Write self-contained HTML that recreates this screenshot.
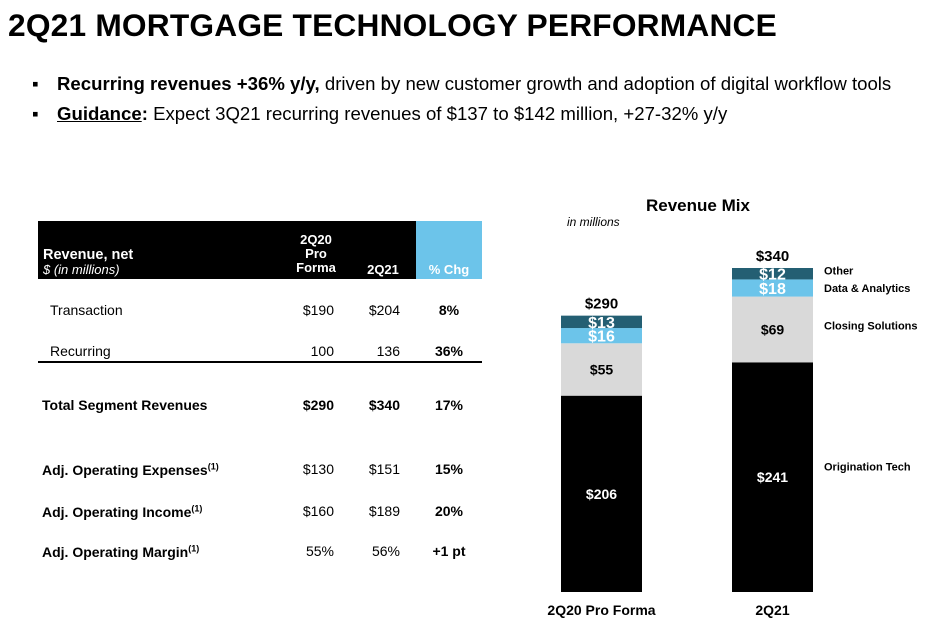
<!DOCTYPE html>
<html><head><meta charset="utf-8">
<style>
body{margin:0;width:930px;height:625px;background:#fff;font-family:"Liberation Sans",Arial,sans-serif;position:relative;overflow:hidden;color:#000}
.a{position:absolute;white-space:nowrap}
.b{font-weight:bold}
.r{text-align:right}
.c{text-align:center}
sup{font-size:9px}
</style></head><body>
<div class="a b" style="left:8px;top:7px;font-size:31.7px;letter-spacing:0.2px">2Q21 MORTGAGE TECHNOLOGY PERFORMANCE</div>
<div class="a" style="left:32px;top:73px;font-size:18.6px">▪</div>
<div class="a" style="left:57px;top:73px;font-size:18.6px"><b>Recurring revenues +36% y/y,</b> driven by new customer growth and adoption of digital workflow tools</div>
<div class="a" style="left:32px;top:103px;font-size:18.6px">▪</div>
<div class="a" style="left:57px;top:103px;font-size:18.6px"><b><u>Guidance</u>:</b> Expect 3Q21 recurring revenues of $137 to $142 million, +27-32% y/y</div>

<div>
<div class="a" style="left:38px;top:221px;width:378px;height:58px;background:#000"></div>
<div class="a" style="left:416px;top:221px;width:66px;height:58px;background:#6cc4ea"></div>
<div class="a b" style="left:43px;top:247px;font-size:14.5px;color:#fff">Revenue, net</div>
<div class="a" style="left:43px;top:262px;font-size:13px;color:#fff;font-style:italic">$ (in millions)</div>
<div class="a b c" style="left:284px;top:233px;width:64px;font-size:13px;line-height:14px;color:#fff">2Q20<br>Pro<br>Forma</div>
<div class="a b c" style="left:358px;top:262px;width:50px;font-size:13px;color:#fff">2Q21</div>
<div class="a b c" style="left:416px;top:262px;width:66px;font-size:13px;color:#fff">% Chg</div>
<div class="a" style="left:38px;top:361px;width:444px;height:2px;background:#000"></div>
</div>
<div id="rows"></div>

<div class="a b" style="left:646px;top:196px;font-size:17px">Revenue Mix</div>
<div class="a" style="left:567px;top:215px;font-size:12px;font-style:italic">in millions</div>
<svg class="a" style="left:0;top:0" width="930" height="625" id="chart"></svg>

<script>
const rowLabels=["Transaction","Recurring","Total Segment Revenues","Adj. Operating Expenses","Adj. Operating Income","Adj. Operating Margin"];
const rowPrior=["$190","100","$290","$130","$160","55%"];
const rowCur=["$204","136","$340","$151","$189","56%"];
const rowChg=["8%","36%","17%","15%","20%","+1 pt"];
const rowY=[302,343,397,461,503,543];
const rowsEl=document.getElementById('rows');
rowLabels.forEach((l,i)=>{
  const bold=i>=2, sup=i>=3;
  const mk=(html,style,name)=>{const d=document.createElement('div');d.className='a';d.style.cssText=style+';top:'+rowY[i]+'px;font-size:14px';d.innerHTML=html;
  
  
  rowsEl.appendChild(d);};
  mk((bold?'<b>':'')+l+(sup?'<sup>(1)</sup>':'')+(bold?'</b>':''),'left:'+(bold?42:50)+'px','row-label');
  mk(i==2?'<b>'+rowPrior[i]+'</b>':rowPrior[i],'left:274px;width:60px;text-align:right','row-2q20-value');
  mk(i==2?'<b>'+rowCur[i]+'</b>':rowCur[i],'left:340px;width:60px;text-align:right','row-2q21-value');
  mk('<b>'+rowChg[i]+'</b>','left:416px;width:66px;text-align:center','row-pct-change');
});

const categories=["2Q20 Pro Forma","2Q21"];
const origination=[206,241];
const closing=[55,69];
const dataAnalytics=[16,18];
const other=[13,12];
const totals=[290,340];
const segNames=["Origination Tech","Closing Solutions","Data & Analytics","Other"];
const series=[origination,closing,dataAnalytics,other];
const colors=["#000000","#d9d9d9","#6cc4ea","#245f73"];
const textColors=["#fff","#000","#fff","#fff"];
const NS="http://www.w3.org/2000/svg";
const svg=document.getElementById('chart');
const base=592, scale=324/340, barW=81;
const xPos=i=>561+i*171;
const yS=v=>v*scale;
function el(t,a){const e=document.createElementNS(NS,t);for(const k in a)e.setAttribute(k,a[k]);svg.appendChild(e);return e;}
categories.forEach((c,i)=>{
  let cum=0;
  series.forEach((s,j)=>{
    const v=s[i], h=yS(v), y=base-yS(cum+v);
    const r=el('rect',{x:xPos(i),y:y,width:barW,height:h,fill:colors[j]});
    
    
    const t=el('text',{x:xPos(i)+barW/2,y:y+h/2+(j>=2?6:5),'text-anchor':'middle','font-size':j>=2?16:14,'font-weight':'bold',fill:textColors[j],'font-family':'Liberation Sans'});
    t.textContent='$'+v;
    
    
    cum+=v;
  });
  const tt=el('text',{x:xPos(i)+barW/2,y:base-yS(totals[i])-7,'text-anchor':'middle','font-size':15,'font-weight':'bold','font-family':'Liberation Sans'});
  tt.textContent='$'+totals[i];
  
  
  const cl=el('text',{x:xPos(i)+barW/2,y:615,'text-anchor':'middle','font-size':14,'font-weight':'bold','font-family':'Liberation Sans'});
  cl.textContent=c;
  
  
});
const last=categories.length-1;
let cum=0;
const legendOffsets=[-8,-4,0,-3];
series.forEach((s,j)=>{
  const v=s[last];
  const mid=base-yS(cum+v/2);
  const y=j==0?base-yS(cum+v)+108:mid+4+legendOffsets[j];
  const t=el('text',{x:824,y:y,'font-size':11,'font-weight':'bold','font-family':'Liberation Sans'});
  t.textContent=segNames[j];
  
  
  cum+=v;
});
</script>
</body></html>
